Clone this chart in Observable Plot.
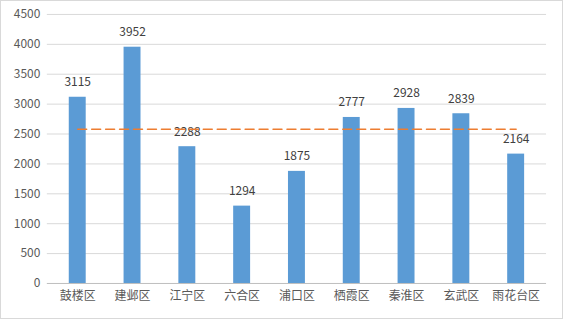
<!DOCTYPE html>
<html><head><meta charset="utf-8">
<script src="https://cdn.jsdelivr.net/npm/d3@7"></script>
<script src="https://cdn.jsdelivr.net/npm/@observablehq/plot@0.6"></script>
<style>
html,body{margin:0;padding:0;background:#fff;}
#c{width:561px;height:317px;border:1px solid #d9d9d9;position:relative;overflow:hidden;}
#c svg{position:absolute;left:-1px;top:-1px;}
</style></head><body><div id="c"></div>
<script>
const districts = ["鼓楼区","建邺区","江宁区","六合区","浦口区","栖霞区","秦淮区","玄武区","雨花台区"];
const values = [3115,3952,2288,1294,1875,2777,2928,2839,2164];
const yTicks = [0,500,1000,1500,2000,2500,3000,3500,4000,4500];
const avg = d3.mean(values);
const data = districts.map((d,i)=>({district:d, value:values[i]}));
const font = "'Noto Sans CJK SC', 'Microsoft YaHei', sans-serif";
const chart = Plot.plot({
  width:563, height:319,
  marginLeft:47, marginRight:15, marginTop:14, marginBottom:35,
  style:{fontFamily:font, fontSize:"12px", color:"#595959", background:"transparent"},
  x:{domain:districts, paddingInner:0.69, paddingOuter:0.345, label:null},
  y:{domain:[0,4500], label:null},
  marks:[
    Plot.gridY(yTicks.filter(t=>t>0), {stroke:"#d9d9d9", strokeOpacity:1}),
    Plot.ruleY([0], {stroke:"#bfbfbf"}),
    Plot.barY(data, {x:"district", y:"value", fill:"#5B9BD5"}),
    Plot.text(data, {x:"district", y:"value", text:d=>String(d.value), dy:-15, fill:"#404040", fontSize:12}),
    Plot.lineY(districts, {x:d=>d, y:()=>avg, stroke:"#ED7D31", strokeWidth:1.5, strokeDasharray:"9,5"}),
    Plot.axisY({ticks:yTicks, tickFormat:d=>String(d), tickSize:0, tickPadding:7, fill:"#595959", fontSize:12}),
    Plot.axisX({tickSize:0, tickPadding:8, fill:"#595959", fontSize:12})
  ]
});
document.getElementById("c").appendChild(chart);
</script></body></html>
